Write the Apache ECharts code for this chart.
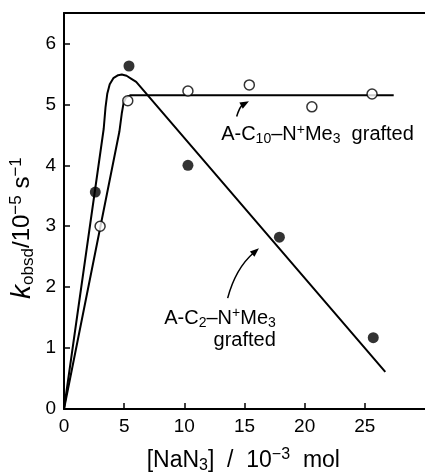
<!DOCTYPE html>
<html><head><meta charset="utf-8">
<script src="https://cdn.jsdelivr.net/npm/echarts@6/dist/echarts.min.js"></script>
<style>html,body{margin:0;padding:0;background:#fff}#c{width:425px;height:475px}</style>
</head><body><div id="c"></div>
<script>
// Measured points: A-C2-N+Me3 grafted (filled circles)
const c2Conc = [2.6, 5.4, 10.3, 17.9, 25.7];
const c2Rate = [3.56, 5.63, 4.0, 2.82, 1.17];
// Measured points: A-C10-N+Me3 grafted (open circles)
const c10Conc = [3.0, 5.3, 10.3, 15.4, 20.6, 25.6];
const c10Rate = [3.0, 5.06, 5.22, 5.32, 4.96, 5.17];
// Hand-drawn fit curves
const c2CurveX = [0, 3.3, 3.45, 3.6, 3.8, 4.1, 4.5, 4.8, 5.2, 5.6, 6.0, 26.7];
const c2CurveY = [0, 4.6, 4.95, 5.18, 5.33, 5.43, 5.48, 5.49, 5.47, 5.42, 5.37, 0.61];
const c10CurveX = [0, 4.6, 4.8, 4.95, 5.15, 5.5, 27.4];
const c10CurveY = [0, 4.55, 4.85, 5.02, 5.11, 5.15, 5.15];
// Axis ticks
const xTicks = [0, 5, 10, 15, 20, 25];
const yTicks = [0, 1, 2, 3, 4, 5, 6];
// Annotation arrows (data coordinates: tail, head)
const c10Arrow = [[14.35, 4.8], [15.37, 5.05]];
const c2Arrow = [[13.6, 1.82], [16.2, 2.64]];

const FONT = 'Liberation Sans';
const zip = (a, b) => a.map((v, i) => [v, b[i]]);
const chart = echarts.init(document.getElementById('c'), null, {renderer: 'canvas'});

const axisCommon = {
  type: 'value',
  axisLine: {show: true, onZero: false, lineStyle: {color: '#000', width: 2}},
  axisTick: {show: true, inside: true, length: 6, lineStyle: {color: '#000', width: 1.5}},
  splitLine: {show: false}
};

chart.setOption({
  animation: false,
  grid: {left: 64, right: -2, top: 13, bottom: 66},
  xAxis: [
    Object.assign({}, axisCommon, {
      min: 0, max: 30, interval: 5,
      axisLabel: {color: '#000', fontSize: 19, fontFamily: FONT, margin: 8, showMaxLabel: false,
        formatter: v => xTicks.includes(v) ? String(v) : ''}
    }),
    {type: 'value', position: 'top', min: 0, max: 30,
     axisLine: {show: true, onZero: false, lineStyle: {color: '#000', width: 2}},
     axisTick: {show: false}, axisLabel: {show: false}, splitLine: {show: false}}
  ],
  yAxis: Object.assign({}, axisCommon, {
    min: 0, max: 6.5, interval: 1,
    axisLabel: {color: '#000', fontSize: 19, fontFamily: FONT, margin: 8, showMaxLabel: false,
      formatter: v => yTicks.includes(v) ? String(v) : ''}
  }),
  series: [
    {type: 'line', data: zip(c2CurveX, c2CurveY), showSymbol: false, smooth: false,
     lineStyle: {color: '#000', width: 2}, z: 2, silent: true},
    {type: 'line', data: zip(c10CurveX, c10CurveY), showSymbol: false, smooth: false,
     lineStyle: {color: '#000', width: 2}, z: 2, silent: true},
    {type: 'scatter', data: zip(c2Conc, c2Rate), symbol: 'circle', symbolSize: 11,
     itemStyle: {color: '#000'}, z: 5, silent: true},
    {type: 'scatter', data: zip(c10Conc, c10Rate), symbol: 'circle', symbolSize: 10,
     itemStyle: {color: '#fff', borderColor: '#000', borderWidth: 1.5}, z: 5, silent: true}
  ]
});

const px = p => chart.convertToPixel({xAxisIndex: 0, yAxisIndex: 0}, p);
const richBase = (fs) => ({
  n: {fontSize: fs, fontFamily: FONT, color: '#000'},
  sub: {fontSize: Math.round(fs * 0.7), fontFamily: FONT, color: '#000', padding: [Math.round(fs * 0.45), 0, 0, 0]},
  sup: {fontSize: Math.round(fs * 0.7), fontFamily: FONT, color: '#000', padding: [0, 0, Math.round(fs * 0.5), 0]},
  k: {fontSize: fs + 4, fontFamily: FONT, fontStyle: 'italic', color: '#000'}
});

// curved arrow: quadratic bezier bowing to the upper-left, filled head
function curvedArrow(pts, bow) {
  const a = px(pts[0]), b = px(pts[1]);
  const dx = b[0] - a[0], dy = b[1] - a[1];
  const len = Math.hypot(dx, dy);
  const nx = dy / len, ny = -dx / len; // perpendicular
  // choose the perpendicular pointing left (negative x)
  const sx = nx < 0 ? 1 : -1;
  const c = [(a[0] + b[0]) / 2 + sx * nx * bow, (a[1] + b[1]) / 2 + sx * ny * bow];
  const tx = b[0] - c[0], ty = b[1] - c[1];
  const tl = Math.hypot(tx, ty);
  const ux = tx / tl, uy = ty / tl;
  const hl = 9, hw = 3.5;
  const base = [b[0] - ux * hl, b[1] - uy * hl];
  const end = [b[0] - ux * (hl - 2), b[1] - uy * (hl - 2)];
  return [
    {type: 'bezierCurve', silent: true, z: 10,
     shape: {x1: a[0], y1: a[1], x2: end[0], y2: end[1], cpx1: c[0], cpy1: c[1]},
     style: {stroke: '#000', lineWidth: 1.5, fill: null}},
    {type: 'polygon', silent: true, z: 10,
     shape: {points: [b, [base[0] - uy * hw, base[1] + ux * hw], [base[0] + uy * hw, base[1] - ux * hw]]},
     style: {fill: '#000'}}
  ];
}

const c10Lab = px([13.06, 4.5]);
const c2Lab1 = px([17.6, 1.49]);
const c2Lab2 = px([17.6, 1.13]);
const yName = px([-3.45, 2.97]);
const xName = px([14.9, -0.84]);

chart.setOption({
  graphic: [
    ...curvedArrow(c10Arrow, 4),
    ...curvedArrow(c2Arrow, 9),
    {type: 'text', x: c10Lab[0], y: c10Lab[1], silent: true,
     style: {text: '{n|A-C}{sub|10}{n|–N}{sup|+}{n|Me}{sub|3}{n|  grafted}', rich: richBase(20),
       align: 'left', verticalAlign: 'middle'}},
    {type: 'text', x: c2Lab1[0], y: c2Lab1[1], silent: true,
     style: {text: '{n|A-C}{sub|2}{n|–N}{sup|+}{n|Me}{sub|3}', rich: richBase(20),
       align: 'right', verticalAlign: 'middle'}},
    {type: 'text', x: c2Lab2[0], y: c2Lab2[1], silent: true,
     style: {text: '{n|grafted}', rich: richBase(20), align: 'right', verticalAlign: 'middle'}},
    {type: 'text', x: yName[0], y: yName[1], rotation: Math.PI / 2, silent: true,
     style: {text: '{k|k}{sub|obsd}{n|/10}{sup|−5}{n| s}{sup|−1}', rich: richBase(24),
       align: 'center', verticalAlign: 'middle'}},
    {type: 'text', x: xName[0], y: xName[1], silent: true,
     style: {text: '{n|[NaN}{sub|3}{n|]  /  10}{sup|−3}{n|  mol}', rich: richBase(23),
       align: 'center', verticalAlign: 'middle'}}
  ]
});
</script>
</body></html>
